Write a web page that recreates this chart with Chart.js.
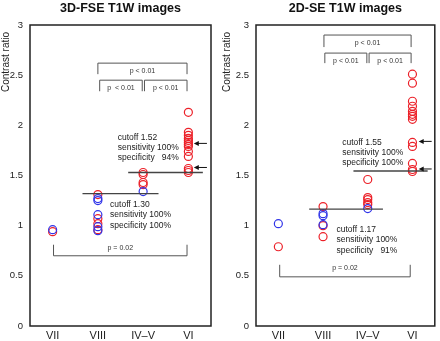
<!DOCTYPE html>
<html>
<head>
<meta charset="utf-8">
<script src="https://cdn.jsdelivr.net/npm/chart.js@4/dist/chart.umd.min.js"></script>
<style>
    body { margin: 0; background: #fff; }
    .panel { position: absolute; top: 0; width: 220px; height: 341px; }
    #p1 { left: 0; }
    #p2 { left: 220px; }
</style>
</head>
<body>
<div class="panel" id="p1"><canvas id="graficaFSE" width="220" height="341"></canvas></div>
<div class="panel" id="p2"><canvas id="graficaSE" width="220" height="341"></canvas></div>
<script>
const categorias = ['VII', 'VIII', 'IV\u2013V', 'VI'];
const ticksY = [0, 0.5, 1, 1.5, 2, 2.5, 3];

// 3D-FSE T1W: valores por grupo (rojo / azul)
const fseRojoVII = [0.94];
const fseAzulVII = [0.96];
const fseRojoVIII = [1.31, 1.07, 1.02, 0.96];
const fseAzulVIII = [1.27, 1.25, 1.11, 0.99, 0.95];
const fseRojoIVV = [1.53, 1.51, 1.43, 1.41];
const fseAzulIVV = [1.34];
const fseRojoVI = [2.13, 1.93, 1.90, 1.87, 1.85, 1.83, 1.81, 1.79, 1.74, 1.69, 1.57, 1.55, 1.53];

// 2D-SE T1W
const seRojoVII = [0.79];
const seAzulVII = [1.02];
const seRojoVIII = [1.19, 1.00, 0.89];
const seAzulVIII = [1.12, 1.10, 1.01];
const seRojoIVV = [1.46, 1.28, 1.26, 1.23, 1.21];
const seAzulIVV = [1.17];
const seRojoVI = [2.51, 2.42, 2.24, 2.19, 2.14, 2.11, 2.09, 2.06, 1.83, 1.79, 1.62, 1.56, 1.54];

// lineas de corte: [y, xDesde, xHasta]
const fseCortes = [[1.32, 1.66, 3.34], [1.53, 2.67, 4.32]];
const seCortes = [[1.165, 1.69, 3.34], [1.545, 2.68, 4.34]];

// flechas: [y, xDesde, xHasta]
const fseFlechas = [[1.82, 4.12, 4.41], [1.58, 4.12, 4.41]];
const seFlechas = [[1.84, 4.14, 4.43], [1.565, 4.14, 4.43]];

// corchetes: [x1, x2, yLinea, yPatas, yTexto, texto]
const fseCorchetes = [
    [2.0, 3.97, 2.62, 2.51, 2.54, 'p < 0.01'],
    [2.04, 2.98, 2.45, 2.34, 2.37, 'p  < 0.01'],
    [3.03, 3.97, 2.45, 2.34, 2.37, 'p < 0.01'],
    [1.02, 3.97, 0.70, 0.81, 0.78, 'p = 0.02']
];
const seCorchetes = [
    [2.02, 3.97, 2.90, 2.78, 2.82, 'p < 0.01'],
    [2.04, 2.98, 2.72, 2.62, 2.64, 'p < 0.01'],
    [3.03, 3.97, 2.72, 2.62, 2.64, 'p < 0.01'],
    [1.03, 3.95, 0.49, 0.61, 0.58, 'p = 0.02']
];

// textos: [x, y, lineas]
const fseTextos = [
    [2.44, 1.88, ['cutoff 1.52', 'sensitivity 100%', 'specificity   94%']],
    [2.27, 1.21, ['cutoff 1.30', 'sensitivity 100%', 'specificity 100%']]
];
const seTextos = [
    [2.43, 1.83, ['cutoff 1.55', 'sensitivity 100%', 'specificity 100%']],
    [2.30, 0.96, ['cutoff 1.17', 'sensitivity 100%', 'specificity   91%']]
];

const ROJO = 'rgb(236, 32, 40)';
const AZUL = 'rgb(48, 52, 232)';
const FUENTE = '"Liberation Sans", Arial, sans-serif';

function puntos(indice, valores) {
    return valores.map(v => ({ x: indice + 1, y: v }));
}

function serie(valores, color) {
    return {
        type: 'scatter',
        data: valores,
        borderColor: color,
        backgroundColor: 'rgba(0,0,0,0)',
        pointRadius: 4,
        pointBorderWidth: 1.2,
        showLine: false
    };
}

const anotaciones = {
    id: 'anotaciones',
    afterDatasetsDraw(chart, args, opts) {
        const ctx = chart.ctx;
        const sx = chart.scales.x;
        const sy = chart.scales.y;
        const area = chart.chartArea;
        ctx.save();

        // marco
        ctx.strokeStyle = '#222';
        ctx.lineWidth = 1.5;
        ctx.strokeRect(area.left, area.top, area.right - area.left, area.bottom - area.top);

        // titulo
        ctx.fillStyle = '#111';
        ctx.font = 'bold 12.5px ' + FUENTE;
        ctx.textAlign = 'center';
        ctx.textBaseline = 'middle';
        ctx.fillText(opts.titulo, (area.left + area.right) / 2, 9);

        // titulo eje y
        ctx.save();
        ctx.translate(opts.tituloX, 62);
        ctx.rotate(-Math.PI / 2);
        ctx.font = '10px ' + FUENTE;
        ctx.fillStyle = '#222';
        ctx.fillText('Contrast ratio', 0, 0);
        ctx.restore();

        // corchetes
        ctx.strokeStyle = '#555';
        ctx.lineWidth = 1;
        ctx.font = '7px ' + FUENTE;
        ctx.fillStyle = '#333';
        opts.corchetes.forEach(c => {
            const x1 = sx.getPixelForValue(c[0]);
            const x2 = sx.getPixelForValue(c[1]);
            const yl = sy.getPixelForValue(c[2]);
            const yp = sy.getPixelForValue(c[3]);
            ctx.beginPath();
            ctx.moveTo(x1, yp);
            ctx.lineTo(x1, yl);
            ctx.lineTo(x2, yl);
            ctx.lineTo(x2, yp);
            ctx.stroke();
            ctx.fillText(c[5], (x1 + x2) / 2, sy.getPixelForValue(c[4]));
        });

        // flechas
        ctx.strokeStyle = '#111';
        ctx.fillStyle = '#111';
        ctx.lineWidth = 1;
        opts.flechas.forEach(f => {
            const y = sy.getPixelForValue(f[0]);
            const xa = sx.getPixelForValue(f[1]);
            const xb = sx.getPixelForValue(f[2]);
            ctx.beginPath();
            ctx.moveTo(xa + 3, y);
            ctx.lineTo(xb, y);
            ctx.stroke();
            ctx.beginPath();
            ctx.moveTo(xa, y);
            ctx.lineTo(xa + 5, y - 2.5);
            ctx.lineTo(xa + 5, y + 2.5);
            ctx.closePath();
            ctx.fill();
        });

        // textos
        ctx.font = '8.5px ' + FUENTE;
        ctx.fillStyle = '#222';
        ctx.textAlign = 'left';
        opts.textos.forEach(t => {
            const x = sx.getPixelForValue(t[0]);
            const y = sy.getPixelForValue(t[1]);
            t[2].forEach((linea, i) => ctx.fillText(linea, x, y + i * 10.3));
        });

        ctx.restore();
    }
};

function crearGrafica(id, cfg) {
    const datasets = [];
    cfg.cortes.forEach(c => {
        datasets.push({
            type: 'line',
            data: [{ x: c[1], y: c[0] }, { x: c[2], y: c[0] }],
            borderColor: '#444',
            borderWidth: 1.3,
            pointRadius: 0,
            fill: false
        });
    });
    cfg.grupos.forEach((g, i) => {
        datasets.push(serie(puntos(i, g[1]), AZUL));
        datasets.push(serie(puntos(i, g[0]), ROJO));
    });

    return new Chart(document.getElementById(id).getContext('2d'), {
        type: 'scatter',
        data: { datasets },
        options: {
            responsive: false,
            animation: false,
            layout: { padding: { top: 25, right: cfg.padDer, left: 0, bottom: 0 } },
            plugins: {
                legend: { display: false },
                tooltip: { enabled: false },
                anotaciones: {
                    titulo: cfg.titulo,
                    tituloX: cfg.tituloX,
                    corchetes: cfg.corchetes,
                    flechas: cfg.flechas,
                    textos: cfg.textos
                }
            },
            scales: {
                x: {
                    type: 'linear',
                    min: 0.5,
                    max: 4.5,
                    afterBuildTicks: s => { s.ticks = categorias.map((c, i) => ({ value: i + 1 })); },
                    afterFit: s => { s.height = 15; },
                    grid: { display: false, drawTicks: false },
                    border: { display: false },
                    ticks: {
                        padding: 3,
                        color: '#222',
                        font: { family: FUENTE, size: 11 },
                        callback: v => categorias[v - 1]
                    }
                },
                y: {
                    min: 0,
                    max: 3,
                    afterBuildTicks: s => { s.ticks = ticksY.map(v => ({ value: v })); },
                    afterFit: s => { s.width = cfg.anchoY; },
                    grid: { display: false, drawTicks: false },
                    border: { display: false },
                    ticks: {
                        padding: 7,
                        color: '#222',
                        font: { family: FUENTE, size: 9.5 },
                        callback: v => String(v)
                    }
                }
            }
        },
        plugins: [anotaciones]
    });
}

crearGrafica('graficaFSE', {
    titulo: '3D-FSE T1W images',
    tituloX: 6,
    anchoY: 30,
    padDer: 9,
    cortes: fseCortes,
    flechas: fseFlechas,
    corchetes: fseCorchetes,
    textos: fseTextos,
    grupos: [
        [fseRojoVII, fseAzulVII],
        [fseRojoVIII, fseAzulVIII],
        [fseRojoIVV, fseAzulIVV],
        [fseRojoVI, []]
    ]
});

crearGrafica('graficaSE', {
    titulo: '2D-SE T1W images',
    tituloX: 7,
    anchoY: 36,
    padDer: 2,
    cortes: seCortes,
    flechas: seFlechas,
    corchetes: seCorchetes,
    textos: seTextos,
    grupos: [
        [seRojoVII, seAzulVII],
        [seRojoVIII, seAzulVIII],
        [seRojoIVV, seAzulIVV],
        [seRojoVI, []]
    ]
});
</script>
</body>
</html>
